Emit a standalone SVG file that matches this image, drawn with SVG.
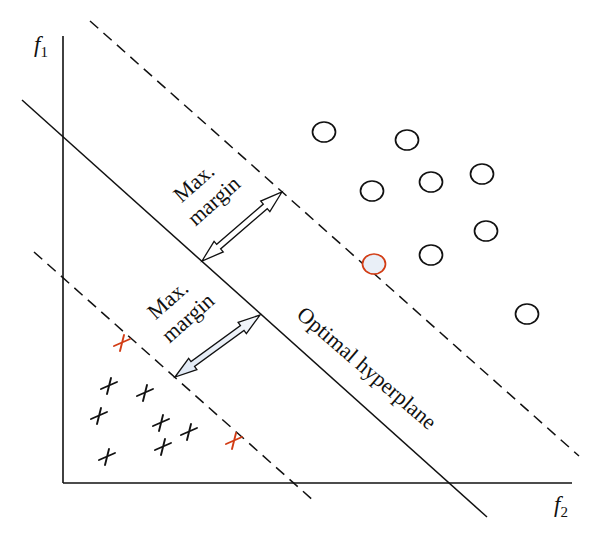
<svg xmlns="http://www.w3.org/2000/svg" width="600" height="539" viewBox="0 0 600 539">
<style>
.ax{stroke:#111;stroke-width:1.6;fill:none}
.sol{stroke:#111;stroke-width:1.5;fill:none}
.dash{stroke:#111;stroke-width:1.5;fill:none;stroke-dasharray:11 7}
.pt{fill:#fff;stroke:#111;stroke-width:1.7}
.cr{fill:none;stroke:#111;stroke-width:1.9;stroke-linecap:round}
.red{stroke:#d23c14}
.lbl{font-family:"Liberation Serif","Times New Roman",serif;font-size:22px;fill:#111;text-anchor:middle}
.axl{font-family:"Liberation Serif","Times New Roman",serif;fill:#111}
.arr{stroke:#111;stroke-width:1.3;stroke-linejoin:miter}
</style>
<defs>
<path id="x" d="M-8,3 L8,-4 M-2,8 L2,-8"/>
<linearGradient id="g" x1="0" y1="0" x2="1" y2="0">
<stop offset="0" stop-color="#dfe8f4"/><stop offset="1" stop-color="#f4f7fb"/>
</linearGradient>
</defs>
<g id="axes">
<line class="ax" x1="63" y1="36" x2="63" y2="483"/>
<line class="ax" x1="63" y1="483" x2="572" y2="483"/>
<text class="axl" x="34" y="52" font-size="23" font-style="italic">f<tspan font-style="normal" font-size="15" dy="5">1</tspan></text>
<text class="axl" x="554" y="512" font-size="23" font-style="italic">f<tspan font-style="normal" font-size="15" dy="5">2</tspan></text>
</g>
<g id="connectors">
<line id="hyperplane" class="sol" x1="22" y1="100" x2="487" y2="517"/>
<line id="upper-margin" class="dash" x1="90" y1="21" x2="579" y2="456"/>
<line id="lower-margin" class="dash" x1="34" y1="252" x2="315" y2="502"/>
<polygon id="arrow-upper" class="arr" fill="#fff" transform="translate(202,261) rotate(-40.8)" points="0,0 22,-7 22,-3 83.6,-3 83.6,-7 105.6,0 83.6,7 83.6,3 22,3 22,7"/>
<polygon id="arrow-lower" class="arr" fill="url(#g)" transform="translate(175,377) rotate(-36.1)" points="0,0 22,-7 22,-3 83.2,-3 83.2,-7 105.2,0 83.2,7 83.2,3 22,3 22,7"/>
</g>
<g id="labels">
<g transform="translate(194,183) rotate(-41.7)"><text class="lbl" x="0" y="7">Max.</text></g>
<g transform="translate(214,201) rotate(-41.7)"><text class="lbl" x="0" y="7">margin</text></g>
<g transform="translate(168,300) rotate(-41.7)"><text class="lbl" x="0" y="7">Max.</text></g>
<g transform="translate(188,318) rotate(-41.7)"><text class="lbl" x="0" y="7">margin</text></g>
<g transform="translate(366,369) rotate(40.5)"><text class="lbl" x="0" y="6">Optimal hyperplane</text></g>
</g>
<g id="circles">
<ellipse class="pt" cx="324" cy="132" rx="11.5" ry="10"/>
<ellipse class="pt" cx="407" cy="140" rx="11.5" ry="10"/>
<ellipse class="pt" cx="372" cy="191" rx="11.5" ry="10"/>
<ellipse class="pt" cx="431" cy="182" rx="11.5" ry="10"/>
<ellipse class="pt" cx="482" cy="174" rx="11.5" ry="10"/>
<ellipse class="pt" cx="486" cy="231" rx="11.5" ry="10"/>
<ellipse class="pt" cx="431" cy="255" rx="11.5" ry="10"/>
<ellipse class="pt" cx="527" cy="314" rx="11.5" ry="10"/>
<ellipse class="pt" cx="374" cy="264" rx="11.5" ry="10" style="fill:#e9eff7;stroke:#d23c14"/>
</g>
<g id="crosses">
<use href="#x" class="cr" x="109" y="386"/>
<use href="#x" class="cr" x="145" y="393"/>
<use href="#x" class="cr" x="99" y="416"/>
<use href="#x" class="cr" x="161" y="423"/>
<use href="#x" class="cr" x="189" y="432"/>
<use href="#x" class="cr" x="163" y="447"/>
<use href="#x" class="cr" x="107" y="457"/>
<use href="#x" class="cr red" x="122" y="343"/>
<use href="#x" class="cr red" x="234" y="441"/>
</g>
</svg>
